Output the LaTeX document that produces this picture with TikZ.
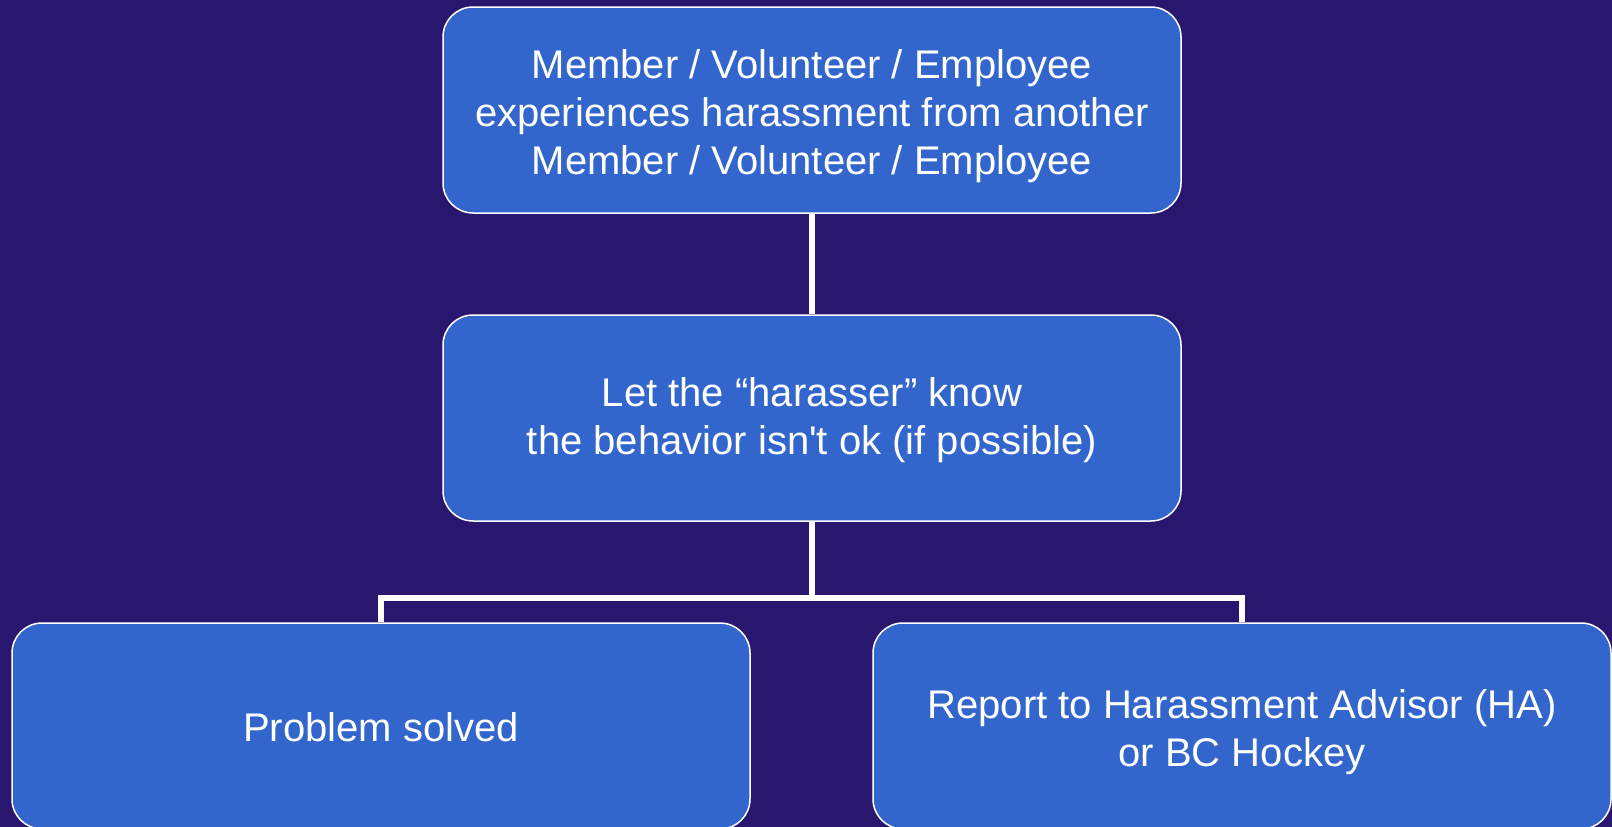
\documentclass[tikz,border=0pt]{standalone}
\usepackage{fontspec}
\setmainfont{Liberation Sans}
\definecolor{bg}{HTML}{29166F}
\definecolor{boxfill}{HTML}{3366CC}
\newcommand\btext[2]{\raisebox{#1}[\height][\depth]{\begin{tabular}{@{}c@{}}#2\end{tabular}}}
\begin{document}
\begin{tikzpicture}[x=1pt,y=-1pt,
  box/.style={draw=white, line width=1.5pt, fill=boxfill, rounded corners=30pt,
    minimum width=738pt, minimum height=206pt, align=center, text=white,
    inner sep=0pt, font=\fontsize{40}{48}\selectfont},
  link/.style={draw=white, line width=5.5pt}]
\useasboundingbox (0,0) rectangle (1612,827);
\fill[bg] (0,0) rectangle (1612,827);
\node[box] (top) at (812,110) {\btext{-7.2pt}{Member / Volunteer / Employee\\experiences harassment from another\\Member / Volunteer / Employee}};
\node[box] (mid) at (812,418) {\btext{-3.1pt}{Let the “harasser” know\\the behavior isn\textquotesingle t ok (if possible)}};
\node[box] (bl) at (381,726) {\btext{-6.2pt}{Problem solved}};
\node[box] (br) at (1242,726) {\btext{-6.7pt}{Report to Harassment Advisor (HA)\\or BC Hockey}};
\coordinate (j) at (812,598);
\draw[link] (top.south) -- (mid.north);
\draw[link] (mid.south) -- (j);
\draw[link, line join=miter] (bl.north) -- (bl.north |- j) -- (br.north |- j) -- (br.north);
\end{tikzpicture}
\end{document}
